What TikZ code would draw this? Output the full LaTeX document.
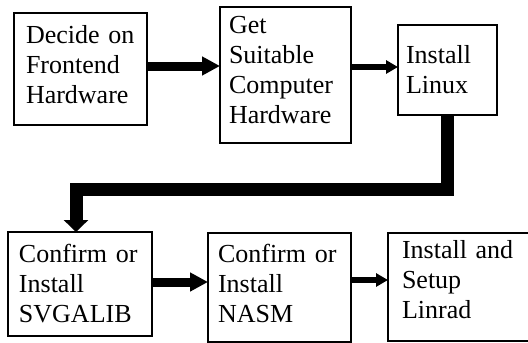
\documentclass[tikz,border=0pt]{standalone}
\usepackage{fontspec}
\setmainfont{Liberation Serif}
\usetikzlibrary{arrows.meta}

\newcommand{\boxfont}{\fontsize{26}{30}\selectfont}

\tikzset{
  stepbox/.style={draw, line width=1.3pt, anchor=north west, outer sep=0pt,
    inner ysep=0pt, align=left, font=\boxfont},
  bigarrow/.style={line width=9pt, -{Triangle[length=18pt,width=18pt]}},
  smallarrow/.style={line width=6pt, -{Triangle[length=12pt,width=13pt]}},
  downarrow/.style={line width=13pt, -{Triangle[length=12pt,width=24pt]}}
}

\begin{document}
\begin{tikzpicture}[x=1pt, y=-1pt]
  \useasboundingbox (0,0) rectangle (528,343);

  % top row
  \node[stepbox, text width=109pt, inner xsep=12pt, text height=30pt, text depth=82pt]
    (decide) at (14,13) {Decide on\\Frontend\\Hardware};
  \node[stepbox, text width=113pt, inner xsep=9pt, text height=26pt, text depth=110pt]
    (gethw) at (220,7) {Get\\Suitable\\Computer\\Hardware};
  \node[stepbox, text width=83pt, inner xsep=8pt, text height=38pt, text depth=52pt]
    (linux) at (398,25) {Install\\Linux};

  % bottom row
  \node[stepbox, text width=122pt, inner xsep=11pt, text height=30pt, text depth=74pt]
    (svga) at (8,232) {Confirm or\\Install\\SVGALIB};
  \node[stepbox, text width=123pt, inner xsep=10pt, text height=29pt, text depth=80pt]
    (nasm) at (208,233) {Confirm or\\Install\\NASM};
  \node[stepbox, text width=114pt, inner xsep=14pt, text height=25pt, text depth=83pt]
    (linrad) at (388,233) {Install and\\Setup\\Linrad};

  % arrows
  \coordinate (r1) at (0,66);
  \coordinate (r2) at (0,67);
  \coordinate (r4) at (0,282);
  \coordinate (r5) at (0,280);
  \coordinate (bend) at (76,189);

  \draw[bigarrow] (decide.east |- r1) -- (gethw.west |- r1);
  \draw[smallarrow] (gethw.east |- r2) -- (linux.west |- r2);
  \draw[downarrow] (linux.south) |- (bend) -- (bend |- svga.north);
  \draw[bigarrow] (svga.east |- r4) -- (nasm.west |- r4);
  \draw[smallarrow] (nasm.east |- r5) -- (linrad.west |- r5);
\end{tikzpicture}
\end{document}
